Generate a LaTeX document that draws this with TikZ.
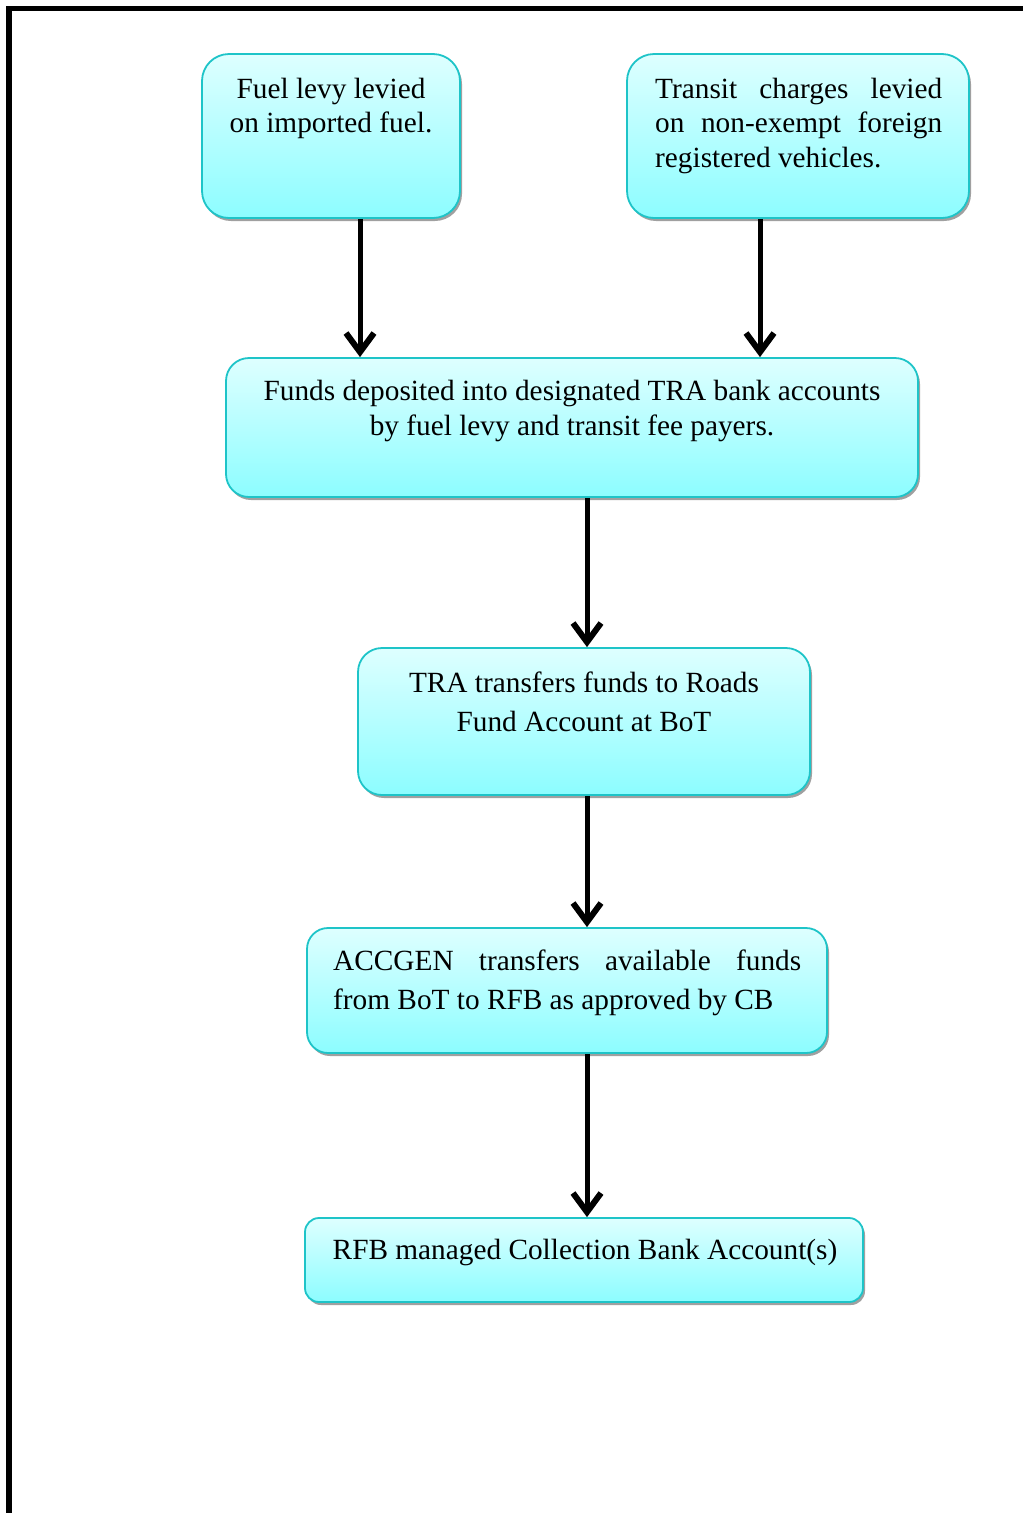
\documentclass[tikz,border=0pt]{standalone}
\usepackage{fontspec}
\setmainfont{Liberation Serif}
\usetikzlibrary{arrows.meta,shadows}
\definecolor{bdr}{RGB}{30,196,200}
\definecolor{ftop}{RGB}{222,255,255}
\definecolor{fbot}{RGB}{140,253,255}
\definecolor{shd}{RGB}{160,160,160}
\newcommand{\topfix}{\rule{0pt}{22pt}}
\tikzset{
  box/.style={draw=bdr, line width=1.8pt, top color=ftop, bottom color=fbot,
    inner sep=0pt, drop shadow={shadow xshift=2pt, shadow yshift=-3pt, fill=shd, opacity=1}},
  txtA/.style={inner sep=0pt, font=\fontsize{29.3}{34.5}\selectfont},
  txtB/.style={inner sep=0pt, font=\fontsize{29.3}{38.5}\selectfont},
  arr/.style={line width=5pt, -{Straight Barb[length=19pt,width=28pt,line width=6pt]}},
  frame/.style={line width=5.5pt, line join=miter}
}
\begin{document}
\begin{tikzpicture}[x=1pt,y=-1pt]
\useasboundingbox (0,0) rectangle (1023,1513);
\draw[frame] (9,1513) -- (9,8.5) -- (1023,8.5);

\node[box, minimum width=258pt, minimum height=164pt, rounded corners=27pt] (b1) at (331,136) {};
\node[box, minimum width=342pt, minimum height=164pt, rounded corners=27pt] (b2) at (798,136) {};
\node[box, minimum width=692pt, minimum height=139pt, rounded corners=23pt] (b3) at (572,427.5) {};
\node[box, minimum width=452pt, minimum height=147pt, rounded corners=24pt] (b4) at (584,721.5) {};
\node[box, minimum width=520pt, minimum height=125pt, rounded corners=21pt] (b5) at (567,990.5) {};
\node[box, minimum width=558pt, minimum height=84pt, rounded corners=14pt] (b6) at (584,1260) {};

\node[txtA, anchor=north, align=center] (t1) at (331,76) {\topfix Fuel levy levied\\on imported fuel.};
\node[txtA, anchor=north west, align=left] (t2) at (655,76)
  {\topfix\makebox[287pt][s]{Transit charges levied}\\\makebox[287pt][s]{on non-exempt foreign}\\registered vehicles.};
\node[txtA, anchor=north, align=center] (t3) at (572,378.7)
  {\topfix Funds deposited into designated TRA bank accounts\\by fuel levy and transit fee payers.};
\node[txtB, anchor=north, align=center] (t4) at (584,670.3)
  {\topfix TRA transfers funds to Roads\\Fund Account at BoT};
\node[txtB, anchor=north west, align=left] (t5) at (333,948.7)
  {\topfix\makebox[468pt][s]{ACCGEN transfers available funds}\\from BoT to RFB as approved by CB};
\node[txtA, anchor=north, align=center] (t6) at (585,1237)
  {\topfix RFB managed Collection Bank Account(s)};

\draw[arr] ([xshift=29pt]b1.south) -- ([xshift=-212pt]b3.north);
\draw[arr] ([xshift=-38pt]b2.south) -- ([xshift=188pt]b3.north);
\draw[arr] ([xshift=15pt]b3.south) -- ([xshift=3pt]b4.north);
\draw[arr] ([xshift=3pt]b4.south) -- ([xshift=20pt]b5.north);
\draw[arr] ([xshift=20pt]b5.south) -- ([xshift=3pt]b6.north);
\end{tikzpicture}
\end{document}
